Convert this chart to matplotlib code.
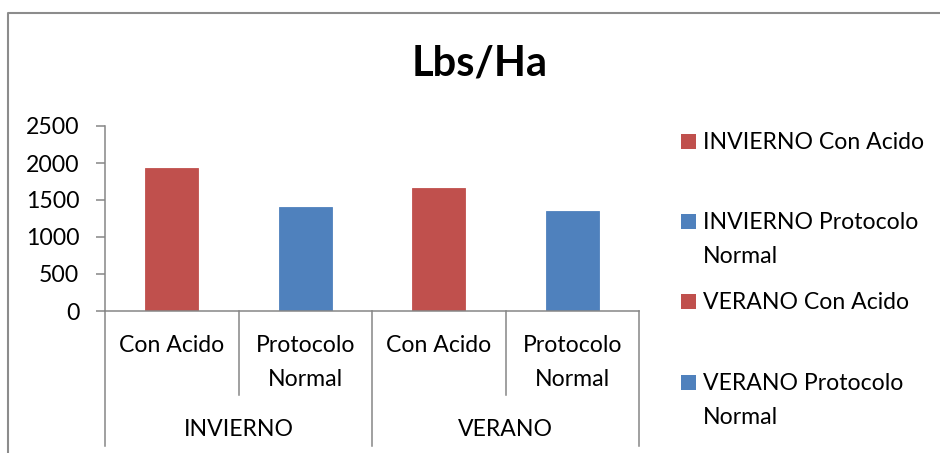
import matplotlib.pyplot as plt
import matplotlib.transforms as mtransforms
from matplotlib.patches import Rectangle
from matplotlib.lines import Line2D

plt.rcParams['font.family'] = ['Lato', 'DejaVu Sans']

# --- datos ---
grupos = ['INVIERNO', 'VERANO']
tratamientos = ['Con Acido', 'Protocolo\nNormal']
valores = [1928, 1405, 1658, 1347]          # Lbs/Ha
colores = ['#C0504D', '#4F81BD', '#C0504D', '#4F81BD']
leyenda = ['INVIERNO Con Acido', 'INVIERNO Protocolo\nNormal',
           'VERANO Con Acido', 'VERANO Protocolo\nNormal']
yticks = [0, 500, 1000, 1500, 2000, 2500]

W, H = 940, 453
gris = '#868686'
fs = 16.6
ls = 1.75  # interlineado de etiquetas de dos lineas


def fx(x):
    return x / W


def fy(y):
    return 1 - y / H


fig = plt.figure(figsize=(W / 100, H / 100), dpi=100)
fig.patch.set_facecolor('white')

# marco del grafico
fig.add_artist(Line2D([fx(8), fx(8), fx(W + 5)], [fy(H + 5), fy(13), fy(13)],
                      color='#8C8C8C', lw=1.5))

ax = fig.add_axes([fx(105), fy(311), fx(639) - fx(105), fy(126) - fy(311)])
x = list(range(len(valores)))
ax.bar(x, valores, width=0.4, color=colores, edgecolor=colores, linewidth=0.6, zorder=2)
ax.set_xlim(-0.5, len(valores) - 0.5)
ax.set_ylim(0, 2500)
ax.set_yticks(yticks)
ax.set_yticklabels([str(v) for v in yticks], fontsize=fs)
ax.tick_params(axis='y', length=6.5, width=1.1, color=gris, pad=12)
ax.set_xticks([])
for s in ['top', 'right']:
    ax.spines[s].set_visible(False)
for s in ['left', 'bottom']:
    ax.spines[s].set_color(gris)
    ax.spines[s].set_linewidth(1.1)

fig.suptitle('Lbs/Ha', x=fx(480), y=fy(63), va='center', fontsize=30, fontweight='bold')

# --- eje de categorias en dos niveles ---
tr = mtransforms.blended_transform_factory(ax.transData, fig.transFigure)
for i in x:
    etiqueta = tratamientos[i % len(tratamientos)]
    ax.text(i, fy(335), etiqueta, transform=tr, ha='center', va='top',
            fontsize=fs, linespacing=ls)
for b in [0.5, 2.5]:
    ax.plot([b, b], [fy(311), fy(395)], transform=tr, color=gris, lw=1.1, clip_on=False)
for b in [-0.5, 1.5, 3.5]:
    ax.plot([b, b], [fy(311), fy(446)], transform=tr, color=gris, lw=1.1, clip_on=False)
for g, nombre in enumerate(grupos):
    ax.text(g * 2 + 0.5, fy(429), nombre, transform=tr, ha='center', va='center', fontsize=fs)

# --- leyenda ---
pos_y = [142, 222, 302, 383]
for etiqueta, col, yy in zip(leyenda, colores, pos_y):
    fig.add_artist(Rectangle((fx(681), fy(yy + 7)), fx(15), 15 / H,
                             facecolor=col, edgecolor='none'))
    fig.text(fx(703), fy(yy - 10), etiqueta, ha='left', va='top', fontsize=fs,
             linespacing=ls)

fig.savefig('out.png', dpi=100, facecolor='white')
